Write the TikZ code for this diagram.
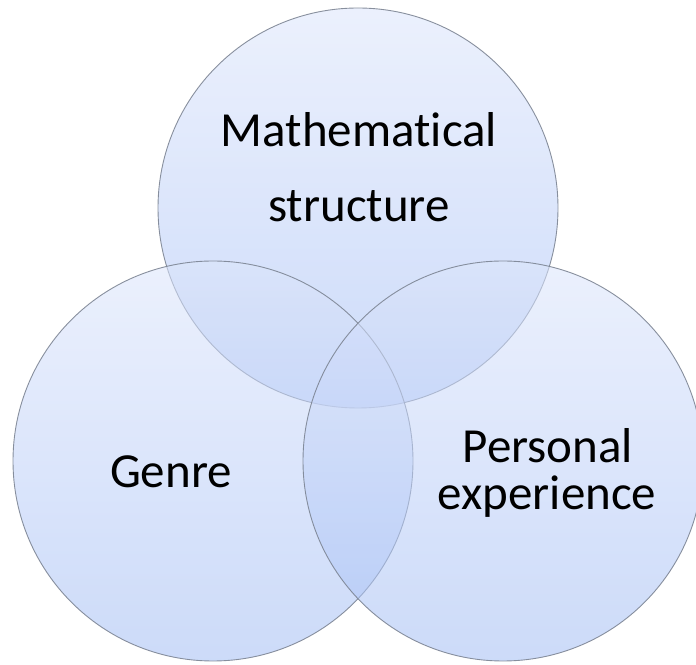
\documentclass[tikz,border=0pt]{standalone}
\usepackage{fontspec}
\setmainfont[Ligatures=NoCommon]{Carlito}
\usetikzlibrary{positioning}
\definecolor{setTop}{HTML}{DCE5FB}
\definecolor{setBot}{HTML}{A4BEF4}
\definecolor{setRim}{HTML}{7C8493}
\tikzset{
  set/.style={top color=setTop,bottom color=setBot,fill opacity=0.56,
    draw=setRim,draw opacity=0.9,line width=0.9pt},
  setlabel/.style={anchor=base,align=center,font=\fontsize{49}{75}\selectfont}
}

\begin{document}
\begin{tikzpicture}[x=1pt,y=1pt]
  \useasboundingbox (0,0) rectangle (696,664);
  % three overlapping sets, top one first
  \path[set] (358,456) circle (200pt);
  \path[set] (213,203) circle (200pt);
  \path[set] (503,203) circle (200pt);
  \node[setlabel] (math) at (359,517) {Mathematical};
  \node[setlabel] (struct) at (359,442) {structure};
  \node[setlabel] (genre) at (171,176) {Genre};
  \node[setlabel] (pers) at (548,201) {Personal};
  \node[setlabel] (exper) at (547,154) {experience};
\end{tikzpicture}
\end{document}
